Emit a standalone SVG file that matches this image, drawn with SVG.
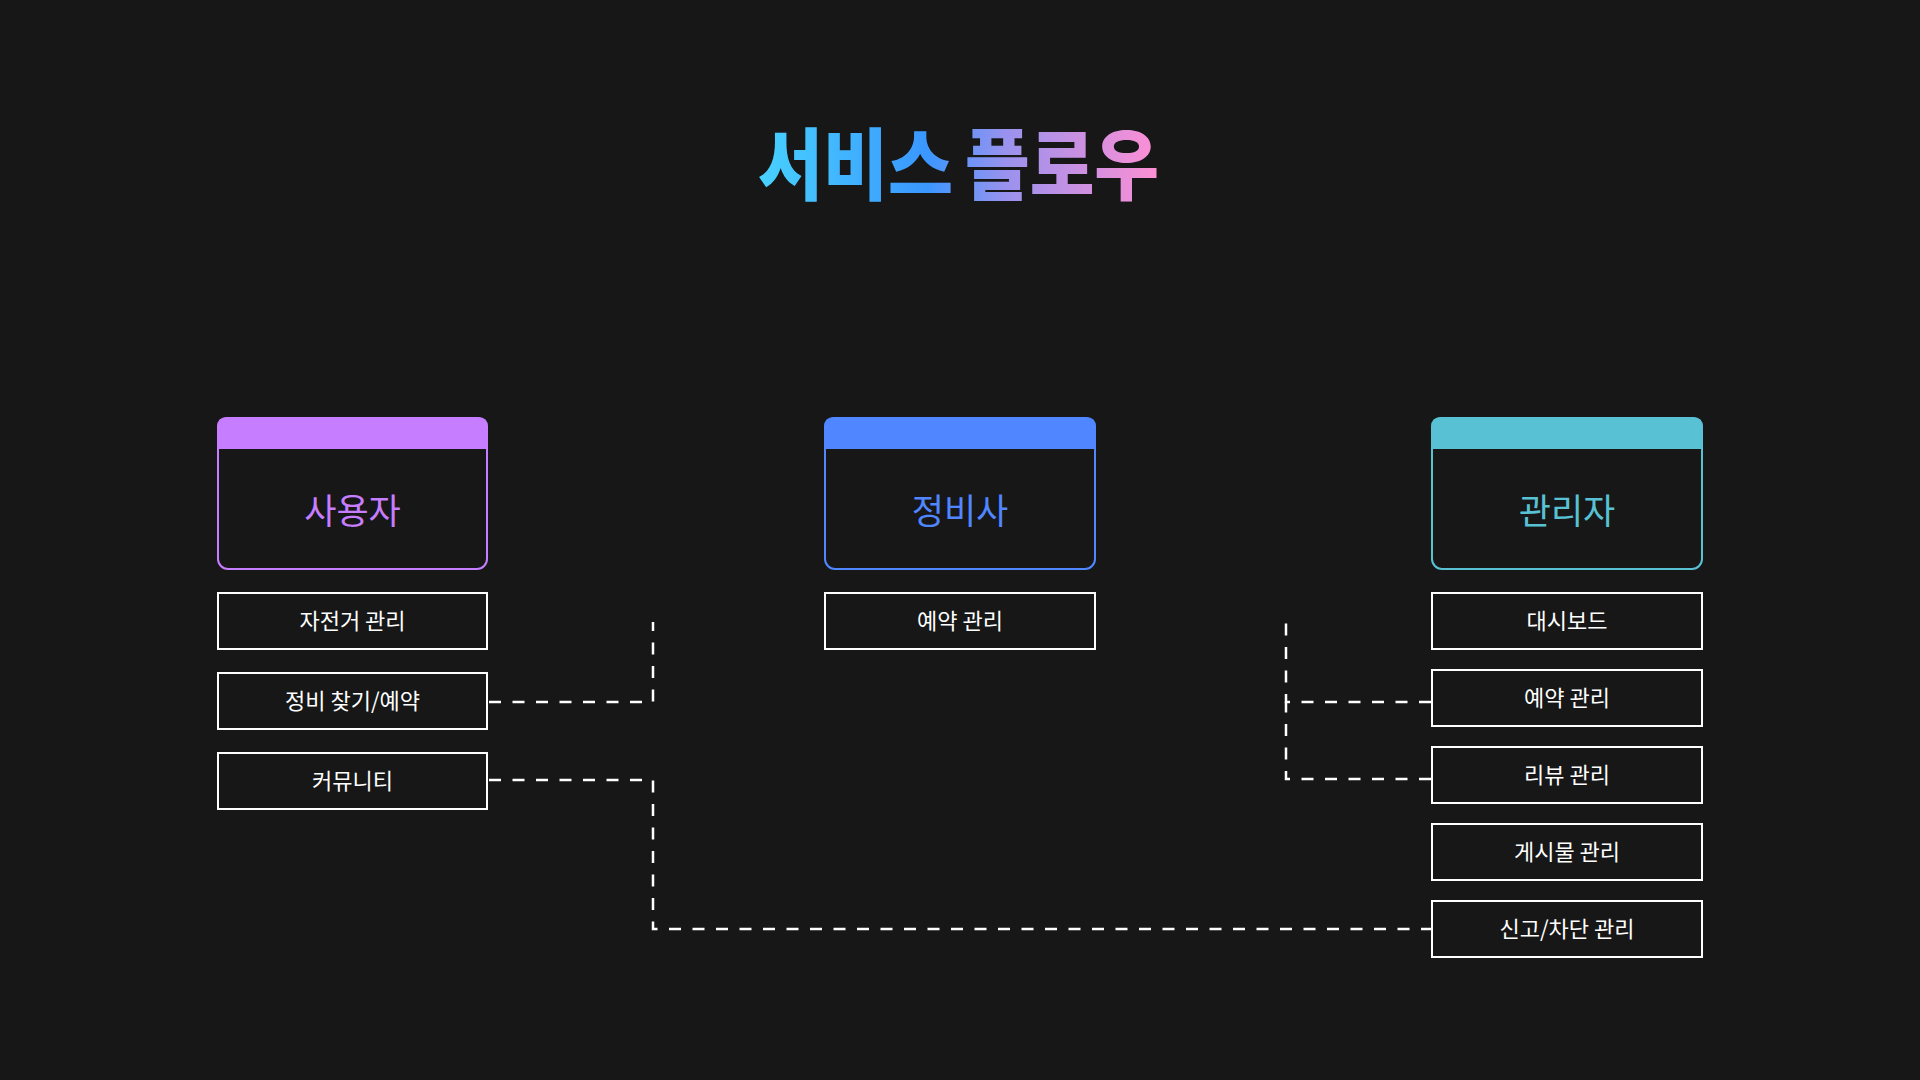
<svg xmlns="http://www.w3.org/2000/svg" width="1920" height="1080" viewBox="0 0 1920 1080">
<defs>
<linearGradient id="tg" x1="758" y1="0" x2="1159" y2="0" gradientUnits="userSpaceOnUse">
<stop offset="0" stop-color="#48d2ff"/>
<stop offset="0.42" stop-color="#3a97ff"/>
<stop offset="0.62" stop-color="#9a92ee"/>
<stop offset="1" stop-color="#ff8fd4"/>
</linearGradient>
<style>
.card{fill:#171717;stroke-width:2}
.ct{font-family:"Noto Sans CJK KR","Noto Sans",sans-serif;font-size:35px;text-anchor:middle}
.box{fill:#171717;stroke:#ffffff;stroke-width:2}
.bt{font-family:"Noto Sans CJK KR","Noto Sans",sans-serif;font-size:22px;fill:#ffffff;text-anchor:middle}
.tt{font-family:"Noto Sans CJK KR",sans-serif;font-weight:900;font-size:78px;fill:url(#tg)}
.conn{fill:none;stroke:#ffffff;stroke-width:2.5;stroke-dasharray:12 11.5}
</style>
</defs>
<rect width="1920" height="1080" fill="#171717"/>
<text class="tt" x="758" y="194" textLength="195" lengthAdjust="spacingAndGlyphs">서비스</text>
<text class="tt" x="965" y="194" textLength="194" lengthAdjust="spacingAndGlyphs">플로우</text>

<g id="connectors">
<path class="conn" d="M489,702 H653 V622"/>
<path class="conn" d="M489,780 H653 V929 H1431"/>
<path class="conn" d="M1431,702 H1286 V622"/>
<path class="conn" d="M1431,779 H1286 V702"/>
</g>

<g id="user">
<rect class="card" x="218" y="418" width="269" height="151" rx="10" stroke="#c77dff"/>
<path d="M217,449 V427 Q217,417 227,417 H478 Q488,417 488,427 V449 Z" fill="#c77dff"/>
<text class="ct" x="352.5" y="524" fill="#c77dff">사용자</text>
</g>
<g id="user-bike"><rect class="box" x="218" y="593" width="269" height="56"/><text class="bt" x="352.5" y="629">자전거 관리</text></g>
<g id="user-find"><rect class="box" x="218" y="673" width="269" height="56"/><text class="bt" x="352.5" y="709">정비 찾기/예약</text></g>
<g id="user-community"><rect class="box" x="218" y="753" width="269" height="56"/><text class="bt" x="352.5" y="789">커뮤니티</text></g>

<g id="mechanic">
<rect class="card" x="825" y="418" width="270" height="151" rx="10" stroke="#5086ff"/>
<path d="M824,449 V427 Q824,417 834,417 H1086 Q1096,417 1096,427 V449 Z" fill="#5086ff"/>
<text class="ct" x="960" y="524" fill="#5086ff">정비사</text>
</g>
<g id="mechanic-reserve"><rect class="box" x="825" y="593" width="270" height="56"/><text class="bt" x="960" y="629">예약 관리</text></g>

<g id="admin">
<rect class="card" x="1432" y="418" width="270" height="151" rx="10" stroke="#58c2d4"/>
<path d="M1431,449 V427 Q1431,417 1441,417 H1693 Q1703,417 1703,427 V449 Z" fill="#58c2d4"/>
<text class="ct" x="1567" y="524" fill="#58c2d4">관리자</text>
</g>
<g id="admin-dashboard"><rect class="box" x="1432" y="593" width="270" height="56"/><text class="bt" x="1567" y="629">대시보드</text></g>
<g id="admin-reserve"><rect class="box" x="1432" y="670" width="270" height="56"/><text class="bt" x="1567" y="706">예약 관리</text></g>
<g id="admin-review"><rect class="box" x="1432" y="747" width="270" height="56"/><text class="bt" x="1567" y="783">리뷰 관리</text></g>
<g id="admin-posts"><rect class="box" x="1432" y="824" width="270" height="56"/><text class="bt" x="1567" y="860">게시물 관리</text></g>
<g id="admin-report"><rect class="box" x="1432" y="901" width="270" height="56"/><text class="bt" x="1567" y="937">신고/차단 관리</text></g>
</svg>
